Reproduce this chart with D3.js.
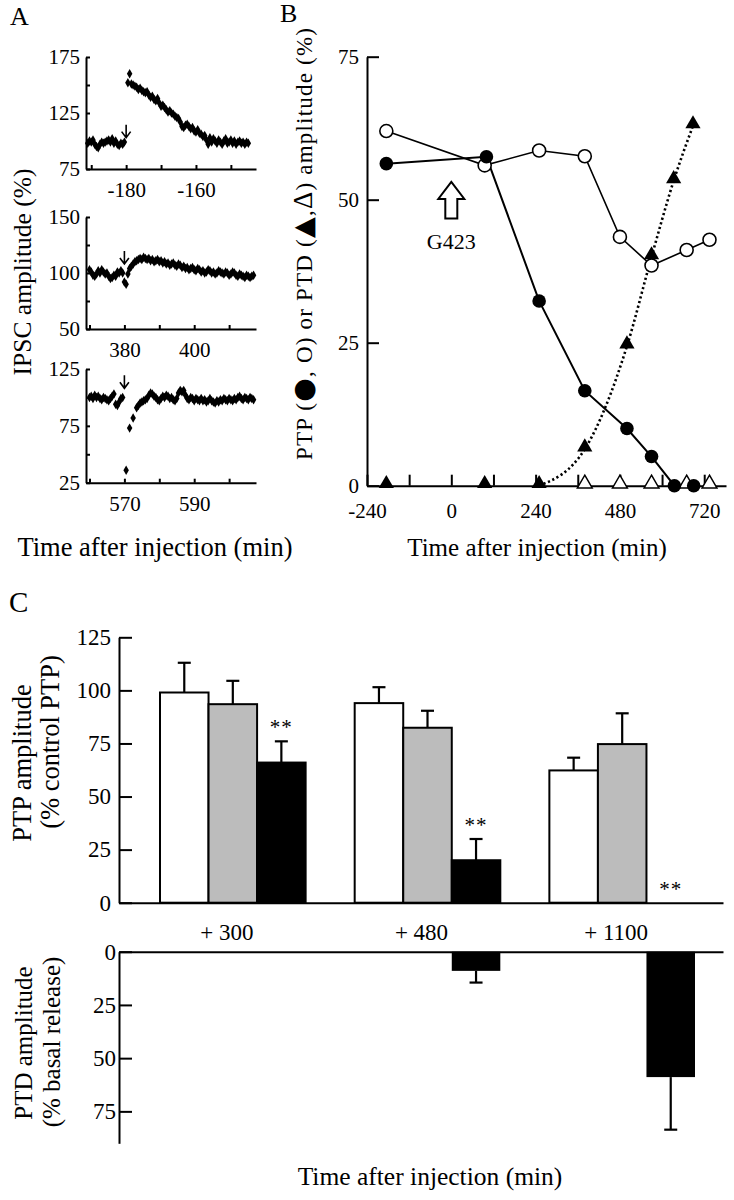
<!DOCTYPE html>
<html><head><meta charset="utf-8">
<script src="https://cdn.jsdelivr.net/npm/d3@7"></script>
<style>
body{margin:0;background:#fff}
svg{display:block}
text{font-family:"Liberation Serif","Times New Roman",serif;fill:#000}
</style>
</head><body>
<svg id="c" width="734" height="1200"></svg>
<script>
// ---------------- Panel A data (time in min, IPSC amplitude %) ----------------
const aTop = [[-191,98],[-190.5,100],[-190,99],[-189.5,101],[-189,97],[-188.5,95],[-188,94],[-187.5,97],[-187,99],[-186.5,98],[-186,99],[-185.5,100],[-185,101],[-184.5,99],[-184,102],[-183.5,98],[-183,100],[-182.5,97],[-182,96],[-181.5,98],[-181,97],[-180.5,99],
[-179.5,152],[-179,160],[-178.5,151],[-178,150],[-177.5,149],[-177,148],[-176.5,146],[-176,147],[-175.5,145],[-175,144],[-174.5,143],[-174,144],[-173.5,141],[-173,139],[-172.5,140],[-172,137],[-171.5,136],[-171,138],[-170.5,134],[-170,131],[-169.5,132],[-169,130],[-168.5,128],[-168,126],[-167.5,127],[-167,125],[-166.5,124],[-166,122],[-165.5,121],[-165,120],[-164.5,117],[-164,113],[-163.5,112],[-163,114],[-162.5,115],[-162,113],[-161.5,111],[-161,112],[-160.5,109],[-160,108],[-159.5,110],[-159,107],[-158.5,106],[-158,104],[-157.5,105],[-157,101],[-156.5,97],[-156,103],[-155.5,99],[-155,102],[-154.5,100],[-154,98],[-153.5,101],[-153,99],[-152.5,97],[-152,100],[-151.5,102],[-151,98],[-150.5,99],[-150,101],[-149.5,98],[-149,100],[-148.5,97],[-148,99],[-147.5,100],[-147,98],[-146.5,99],[-146,97],[-145.5,99],[-145,98]];
const aMid = [[370,103],[370.5,101],[371,98],[371.5,97],[372,99],[372.5,102],[373,100],[373.5,103],[374,101],[374.5,99],[375,100],[375.5,97],[376,95],[376.5,96],[377,98],[377.5,97],[378,101],[378.5,100],[379,102],[379.5,100],[380,92],[380.5,90],[381,99],[381.5,104],[382,106],[382.5,108],[383,110],[383.5,111],[384,112],[384.5,113],[385,112],[385.5,114],[386,113],[386.5,112],[387,113],[387.5,111],[388,112],[388.5,110],[389,111],[389.5,112],[390,110],[390.5,111],[391,109],[391.5,110],[392,108],[392.5,109],[393,107],[393.5,108],[394,109],[394.5,107],[395,106],[395.5,108],[396,107],[396.5,105],[397,106],[397.5,104],[398,105],[398.5,103],[399,104],[399.5,105],[400,103],[400.5,102],[401,104],[401.5,103],[402,101],[402.5,102],[403,100],[403.5,101],[404,103],[404.5,102],[405,100],[405.5,101],[406,99],[406.5,100],[407,102],[407.5,101],[408,100],[408.5,99],[409,101],[409.5,100],[410,98],[410.5,99],[411,101],[411.5,100],[412,98],[412.5,97],[413,99],[413.5,98],[414,97],[414.5,96],[415,98],[415.5,97],[416,96],[416.5,97],[417,98]];
const aBot = [[560,100],[560.5,101],[561,99],[561.5,102],[562,100],[562.5,101],[563,99],[563.5,98],[564,100],[564.5,99],[565,98],[565.5,97],[566,99],[566.5,101],[567,103],[567.5,94],[568,93],[568.5,96],[569,99],[569.5,100],[570.5,36],[571.5,73],[572.5,82],[573.5,91],[574,93],[574.5,95],[575,96],[575.5,97],[576,98],[576.5,99],[577,102],[577.5,104],[578,103],[578.5,101],[579,100],[579.5,98],[580,97],[580.5,99],[581,101],[581.5,100],[582,102],[582.5,101],[583,99],[583.5,100],[584,98],[584.5,97],[585,99],[585.5,104],[586,106],[586.5,105],[587,106],[587.5,102],[588,99],[588.5,98],[589,100],[589.5,99],[590,97],[590.5,99],[591,98],[591.5,97],[592,99],[592.5,97],[593,98],[593.5,96],[594,97],[594.5,99],[595,97],[595.5,96],[596,95],[596.5,97],[597,96],[597.5,98],[598,97],[598.5,99],[599,98],[599.5,97],[600,99],[600.5,98],[601,97],[601.5,99],[602,98],[602.5,100],[603,101],[603.5,99],[604,98],[604.5,100],[605,99],[605.5,98],[606,100],[606.5,99],[607,98]];
const aTopYTicks = [75,100,125,150,175], aTopYLabels = [75,125,175];
const aMidYTicks = [50,75,100,125,150], aMidYLabels = [50,100,150];
const aBotYTicks = [25,50,75,100,125], aBotYLabels = [25,75,125];
const aTopXTicks = [-190,-180,-170,-160,-150], aTopXLabels = [-180,-160];
const aMidXTicks = [370,380,390,400,410], aMidXLabels = [380,400];
const aBotXTicks = [560,570,580,590,600], aBotXLabels = [570,590];
const aArrows = [[-180,103],[380,108],[570,108]]; // stimulus markers (time, tip value)

// ---------------- Panel B data ----------------
const ptpFilledT = [-185,100,250,380,500,570,635,690];
const ptpFilledV = [56.3,57.5,32.3,16.6,10.0,5.1,0,0];
const ptpOpenT = [-185,95,250,380,480,570,670,735];
const ptpOpenV = [62,56,58.6,57.6,43.5,38.5,41.2,43];
const ptdFilledT = [-185,95,250,380,500,570,633,688];
const ptdFilledV = [0,0,0,6.4,24.4,40,53.3,62.9];
const ptdOpenT = [380,480,570,670,735];
const ptdOpenV = [0,0,0,0,0];
const bYTicks = [0,25,50,75];
const bXTicks = [-240,-120,0,120,240,360,480,600,720];
const bXLabels = [-240,0,240,480,720];

// ---------------- Panel C data ----------------
const groups = ["+ 300","+ 480","+ 1100"];
const series = ["white","gray","black"];
const ptpWhite = [99,94,62.3],  ptpWhiteErr = [14,7.5,6];
const ptpGray  = [93.5,82.4,74.7], ptpGrayErr = [11,8,14.5];
const ptpBlack = [66,20,0], ptpBlackErr = [10,10,0];
const ptpBlackSig = ["**","**","**"];
const ptdBlack = [0,9,58.9], ptdBlackErr = [0,5.5,24.7];
const cYTicks = [0,25,50,75,100,125];
const dYTicks = [0,25,50,75];

const svg = d3.select("#c");
const SW = 2;

function styleAxis(g, fs){
  g.selectAll(".domain").attr("stroke","#000").attr("stroke-width",SW);
  g.selectAll(".tick line").attr("stroke","#000").attr("stroke-width",SW);
  g.selectAll(".tick text").attr("font-size",fs).attr("fill","#000");
}

// ================= Panel A =================
function panelA(data, xDom, yDom, yRange, xTicks, xLabels, yTicks, yLabels, arrow){
  const x = d3.scaleLinear().domain(xDom).range([86,256]);
  const y = d3.scaleLinear().domain(yDom).range(yRange);
  const gx = svg.append("g").attr("transform",`translate(0,${yRange[0]})`)
    .call(d3.axisBottom(x).tickValues(xTicks).tickSize(-4).tickSizeOuter(0).tickPadding(13)
      .tickFormat(d => xLabels.includes(d) ? d : ""));
  styleAxis(gx,21);
  const gy = svg.append("g").attr("transform",`translate(86,0)`)
    .call(d3.axisLeft(y).tickValues(yTicks).tickSize(-4).tickSizeOuter(0).tickPadding(6)
      .tickFormat(d => yLabels.includes(d) ? d : ""));
  styleAxis(gy,21);
  svg.append("g").selectAll("path").data(data).join("path")
    .attr("d", d3.symbol(d3.symbolDiamond, 26))
    .attr("transform", d => `translate(${x(d[0])},${y(d[1])})`)
    .attr("fill","#000");
  const ax = x(arrow[0]), ay = y(arrow[1]);
  svg.append("path")
    .attr("d",`M${ax},${ay-13}L${ax},${ay}M${ax-4.5},${ay-6}L${ax},${ay}L${ax+4.5},${ay-6}`)
    .attr("fill","none").attr("stroke","#000").attr("stroke-width",1.6);
}
panelA(aTop,[-191.5,-142.8],[75,175],[169,57],aTopXTicks,aTopXLabels,aTopYTicks,aTopYLabels,aArrows[0]);
panelA(aMid,[369.0,417.7],[50,150],[329,217],aMidXTicks,aMidXLabels,aMidYTicks,aMidYLabels,aArrows[1]);
panelA(aBot,[559.0,607.7],[25,125],[482.7,369],aBotXTicks,aBotXLabels,aBotYTicks,aBotYLabels,aArrows[2]);

svg.append("text").attr("x",10).attr("y",25).attr("font-size",26).text("A");
svg.append("text").attr("transform","translate(31,272) rotate(-90)").attr("text-anchor","middle")
  .attr("font-size",25.5).text("IPSC amplitude (%)");
svg.append("text").attr("x",155).attr("y",556).attr("text-anchor","middle").attr("font-size",26.5)
  .text("Time after injection (min)");

// ================= Panel B =================
{
  const x = d3.scaleLinear().domain([-240,782]).range([367,726]);
  const y = d3.scaleLinear().domain([0,75]).range([485.7,56.7]);
  const line = d3.line().x(d=>x(d[0])).y(d=>y(d[1]));
  const filled = ptpFilledT.map((t,i)=>[t,ptpFilledV[i]]);
  const open = ptpOpenT.map((t,i)=>[t,ptpOpenV[i]]);
  const tri = ptdFilledT.map((t,i)=>[t,ptdFilledV[i]]);
  const otri = ptdOpenT.map((t,i)=>[t,ptdOpenV[i]]);

  svg.append("path").attr("d",line(open)).attr("fill","none").attr("stroke","#000").attr("stroke-width",1.6);
  svg.append("path").attr("d",line(filled)).attr("fill","none").attr("stroke","#000").attr("stroke-width",2);
  svg.append("path").attr("d",d3.line().x(d=>x(d[0])).y(d=>y(d[1])).curve(d3.curveMonotoneX)(tri.slice(2)))
    .attr("fill","none").attr("stroke","#000").attr("stroke-width",2.6).attr("stroke-dasharray","2.2,2.6");

  const gx = svg.append("g").attr("transform",`translate(0,${y(0)})`)
    .call(d3.axisBottom(x).tickValues(bXTicks).tickSize(-11).tickSizeOuter(0).tickPadding(17)
      .tickFormat(d => bXLabels.includes(d) ? d : ""));
  styleAxis(gx,21);
  const gy = svg.append("g").attr("transform",`translate(${x(-240)},0)`)
    .call(d3.axisLeft(y).tickValues(bYTicks).tickSize(-12).tickSizeOuter(0).tickPadding(8));
  styleAxis(gy,21);

  svg.append("g").selectAll("circle").data(open).join("circle")
    .attr("cx",d=>x(d[0])).attr("cy",d=>y(d[1])).attr("r",6.5)
    .attr("fill","#fff").attr("stroke","#000").attr("stroke-width",1.6);
  svg.append("g").selectAll("path").data(otri).join("path")
    .attr("d",d3.symbol(d3.symbolTriangle,95)).attr("transform",d=>`translate(${x(d[0])},${y(d[1])-2})`)
    .attr("fill","#fff").attr("stroke","#000").attr("stroke-width",1.5);
  svg.append("g").selectAll("path").data(tri).join("path")
    .attr("d",d3.symbol(d3.symbolTriangle,100)).attr("transform",d=>`translate(${x(d[0])},${y(d[1])-2})`)
    .attr("fill","#000");
  svg.append("g").selectAll("circle").data(filled).join("circle")
    .attr("cx",d=>x(d[0])).attr("cy",d=>y(d[1])).attr("r",6.8).attr("fill","#000");

  // G423 hollow arrow at injection time 0
  const ax = x(0), ty = y(53.1), by = y(46.7);
  svg.append("path")
    .attr("d",`M${ax},${ty}L${ax+13},${ty+17}L${ax+6},${ty+17}L${ax+6},${by}L${ax-6},${by}L${ax-6},${ty+17}L${ax-13},${ty+17}Z`)
    .attr("fill","#fff").attr("stroke","#000").attr("stroke-width",2);
  svg.append("text").attr("x",ax).attr("y",by+30).attr("text-anchor","middle").attr("font-size",22).text("G423");

  svg.append("text").attr("x",280).attr("y",22).attr("font-size",26).text("B");
  const yl = svg.append("text").attr("transform","translate(312,244) rotate(-90)").attr("text-anchor","middle")
    .attr("font-size",23).attr("textLength",432).attr("lengthAdjust","spacing");
  yl.append("tspan").text("PTP (");
  yl.append("tspan").attr("font-size",27).attr("font-family","DejaVu Sans").text("\u25CF");
  yl.append("tspan").text(", O) or PTD  (");
  yl.append("tspan").attr("font-size",27).attr("font-family","DejaVu Sans").text("\u25B2");
  yl.append("tspan").text(",");
  yl.append("tspan").attr("font-size",27).text("\u0394");
  yl.append("tspan").text(") amplitude (%)");
  svg.append("text").attr("x",537).attr("y",556).attr("text-anchor","middle").attr("font-size",25)
    .text("Time after injection (min)");
}

// ================= Panel C =================
{
  const xg = d3.scaleBand().domain(groups).range([160,695]).paddingInner(0.252).paddingOuter(0);
  const xs = d3.scaleBand().domain(series).range([0,xg.bandwidth()]).padding(0);
  const yC = d3.scaleLinear().domain([0,125]).range([902.7,637.3]);
  const yD = d3.scaleLinear().domain([0,90]).range([951.7,1143.3]);
  const fills = {white:"#fff",gray:"#bcbcbc",black:"#000"};
  const vals = {white:ptpWhite,gray:ptpGray,black:ptpBlack};
  const errs = {white:ptpWhiteErr,gray:ptpGrayErr,black:ptpBlackErr};

  const bars = [];
  groups.forEach((g,i)=>series.forEach(s=>bars.push({g,s,v:vals[s][i],e:errs[s][i],i})));

  const eb = svg.append("g");
  bars.filter(d=>d.e>0).forEach(d=>{
    const cx = xg(d.g)+xs(d.s)+xs.bandwidth()/2;
    eb.append("line").attr("x1",cx).attr("x2",cx).attr("y1",yC(d.v)).attr("y2",yC(d.v+d.e))
      .attr("stroke","#000").attr("stroke-width",2.2);
    eb.append("line").attr("x1",cx-6.5).attr("x2",cx+6.5).attr("y1",yC(d.v+d.e)).attr("y2",yC(d.v+d.e))
      .attr("stroke","#000").attr("stroke-width",2.2);
  });
  svg.append("g").selectAll("rect").data(bars.filter(d=>d.v>0)).join("rect")
    .attr("x",d=>xg(d.g)+xs(d.s)).attr("width",xs.bandwidth())
    .attr("y",d=>yC(d.v)).attr("height",d=>yC(0)-yC(d.v))
    .attr("fill",d=>fills[d.s]).attr("stroke","#000").attr("stroke-width",2);
  groups.forEach((g,i)=>{
    const cx = xg(g)+xs("black")+xs.bandwidth()/2;
    svg.append("text").attr("x",cx).attr("y",yC(ptpBlack[i]+ptpBlackErr[i])-7)
      .attr("text-anchor","middle").attr("font-size",21).attr("fill","#333").attr("letter-spacing",1)
      .text(ptpBlackSig[i]);
  });

  const xl = d3.scaleLinear().range([119,723]);
  const gx1 = svg.append("g").attr("transform",`translate(0,${yC(0)})`)
    .call(d3.axisBottom(xl).tickValues([]).tickSizeOuter(0));
  styleAxis(gx1,23);
  const gy1 = svg.append("g").attr("transform",`translate(119,0)`)
    .call(d3.axisLeft(yC).tickValues(cYTicks).tickSize(-13).tickSizeOuter(0).tickPadding(8));
  styleAxis(gy1,23);

  groups.forEach(g=>{
    svg.append("text").attr("x",xg(g)+xg.bandwidth()/2-6).attr("y",940).attr("text-anchor","middle")
      .attr("font-size",23).text(g);
  });

  ptdBlack.forEach((v,i)=>{
    if (v<=0) return;
    const x0 = xg(groups[i])+xs("black");
    const cx = x0+xs.bandwidth()/2;
    svg.append("line").attr("x1",cx).attr("x2",cx).attr("y1",yD(v)).attr("y2",yD(v+ptdBlackErr[i]))
      .attr("stroke","#000").attr("stroke-width",2.2);
    svg.append("line").attr("x1",cx-6.5).attr("x2",cx+6.5).attr("y1",yD(v+ptdBlackErr[i])).attr("y2",yD(v+ptdBlackErr[i]))
      .attr("stroke","#000").attr("stroke-width",2.2);
    svg.append("rect").attr("x",x0).attr("width",xs.bandwidth()).attr("y",yD(0)).attr("height",yD(v)-yD(0))
      .attr("fill","#000");
  });
  const gx2 = svg.append("g").attr("transform",`translate(0,${yD(0)})`)
    .call(d3.axisBottom(xl).tickValues([]).tickSizeOuter(0));
  styleAxis(gx2,23);
  const gy2 = svg.append("g").attr("transform",`translate(119,0)`)
    .call(d3.axisLeft(yD).tickValues(dYTicks).tickSize(-13).tickSizeOuter(0).tickPadding(3));
  styleAxis(gy2,23);

  svg.append("text").attr("x",9).attr("y",612).attr("font-size",29).text("C");
  svg.append("text").attr("transform","translate(31,763) rotate(-90)").attr("text-anchor","middle")
    .attr("font-size",26.5).text("PTP amplitude");
  svg.append("text").attr("transform","translate(59,742) rotate(-90)").attr("text-anchor","middle")
    .attr("font-size",26.5).text("(% control PTP)");
  svg.append("text").attr("transform","translate(32,1043) rotate(-90)").attr("text-anchor","middle")
    .attr("font-size",25).text("PTD amplitude");
  svg.append("text").attr("transform","translate(60,1042) rotate(-90)").attr("text-anchor","middle")
    .attr("font-size",25).text("(% basal release)");
  svg.append("text").attr("x",430).attr("y",1185).attr("text-anchor","middle").attr("font-size",25.5)
    .text("Time after injection (min)");
}
</script>
</body></html>
